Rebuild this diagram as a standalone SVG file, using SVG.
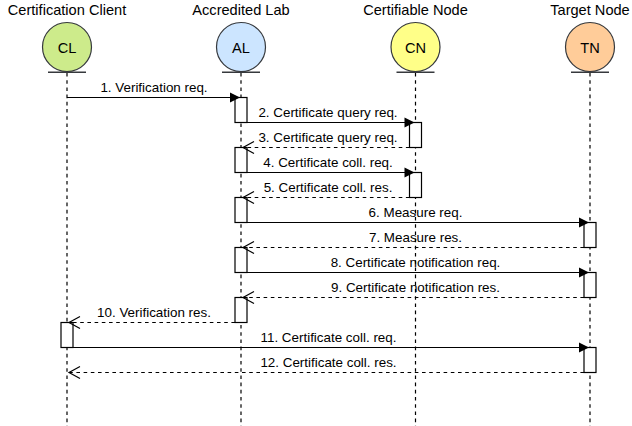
<svg xmlns="http://www.w3.org/2000/svg" width="632" height="426" viewBox="0 0 632 426">
<defs>
<style>
text{font-family:"Liberation Sans",Arial,sans-serif;fill:#000}
.title{font-size:14.6px;text-anchor:middle}
.ctext{font-size:14.6px;text-anchor:middle}
.lbl{font-size:13.4px;text-anchor:middle}
.circ{stroke:#36393d;stroke-width:1.2}
.bar{stroke:#36393d;stroke-width:1.4}
.life{stroke:#000;stroke-width:1.2;stroke-dasharray:3.6 3.6;fill:none}
.act{fill:#fff;stroke:#000;stroke-width:1.2}
.req{stroke:#000;stroke-width:1.2;fill:none;marker-end:url(#filled)}
.res{stroke:#000;stroke-width:1.2;fill:none;stroke-dasharray:3.6 3.6;marker-end:url(#open)}
</style>
<marker id="filled" markerUnits="userSpaceOnUse" markerWidth="12" markerHeight="12" refX="10" refY="5" orient="auto" overflow="visible">
<path d="M0,0 L10,5 L0,10 z" fill="#000"/>
</marker>
<marker id="open" markerUnits="userSpaceOnUse" markerWidth="14" markerHeight="14" refX="11" refY="6" orient="auto" overflow="visible">
<path d="M0,0 L11,6 L0,12" fill="none" stroke="#000" stroke-width="1.2"/>
</marker>
</defs>
<rect width="632" height="426" fill="#fff"/>

<g id="CL">
<text class="title" x="67" y="15">Certification Client</text>
<circle class="circ" cx="67" cy="47" r="24.5" fill="#cdeb8b"/>
<text class="ctext" x="67" y="52.5">CL</text>
<line class="bar" x1="48" y1="72.3" x2="86" y2="72.3"/>
<line class="life" x1="67" y1="73" x2="67" y2="426"/>
</g>
<g id="AL">
<text class="title" x="241" y="15">Accredited Lab</text>
<circle class="circ" cx="241" cy="47" r="24.5" fill="#cce5ff"/>
<text class="ctext" x="241" y="52.5">AL</text>
<line class="bar" x1="222" y1="72.3" x2="260" y2="72.3"/>
<line class="life" x1="241" y1="73" x2="241" y2="426"/>
</g>
<g id="CN">
<text class="title" x="415.5" y="15">Certifiable Node</text>
<circle class="circ" cx="415.5" cy="47" r="24.5" fill="#ffff88"/>
<text class="ctext" x="415.5" y="52.5">CN</text>
<line class="bar" x1="396.5" y1="72.3" x2="434.5" y2="72.3"/>
<line class="life" x1="415.5" y1="73" x2="415.5" y2="426"/>
</g>
<g id="TN">
<text class="title" x="590" y="15">Target Node</text>
<circle class="circ" cx="590" cy="47" r="24.5" fill="#ffcc99"/>
<text class="ctext" x="590" y="52.5">TN</text>
<line class="bar" x1="571" y1="72.3" x2="609" y2="72.3"/>
<line class="life" x1="590" y1="73" x2="590" y2="426"/>
</g>

<g id="activations">
<rect class="act" x="235" y="97.5" width="12" height="25"/>
<rect class="act" x="235" y="147.5" width="12" height="25"/>
<rect class="act" x="235" y="197.5" width="12" height="25"/>
<rect class="act" x="235" y="247.5" width="12" height="25"/>
<rect class="act" x="235" y="297.5" width="12" height="25"/>
<rect class="act" x="409.5" y="122.5" width="12" height="25"/>
<rect class="act" x="409.5" y="172.5" width="12" height="25"/>
<rect class="act" x="584" y="222.5" width="12" height="25"/>
<rect class="act" x="584" y="272.5" width="12" height="25"/>
<rect class="act" x="584" y="347.5" width="12" height="25"/>
<rect class="act" x="61" y="322.5" width="12" height="25"/>
</g>

<g id="connectors">
<line class="req" x1="67" y1="97.5" x2="240" y2="97.5"/>
<text class="lbl" x="154" y="92">1. Verification req.</text>
<line class="req" x1="247" y1="122.5" x2="414.5" y2="122.5"/>
<text class="lbl" x="328" y="117">2. Certificate query req.</text>
<line class="res" x1="409.5" y1="147.5" x2="243" y2="147.5"/>
<text class="lbl" x="328" y="142">3. Certificate query req.</text>
<line class="req" x1="247" y1="172.5" x2="414.5" y2="172.5"/>
<text class="lbl" x="328" y="167">4. Certificate coll. req.</text>
<line class="res" x1="409.5" y1="197.5" x2="243" y2="197.5"/>
<text class="lbl" x="328" y="192">5. Certificate coll. res.</text>
<line class="req" x1="247" y1="222.5" x2="589" y2="222.5"/>
<text class="lbl" x="415.5" y="217">6. Measure req.</text>
<line class="res" x1="584" y1="247.5" x2="243" y2="247.5"/>
<text class="lbl" x="415.5" y="242">7. Measure res.</text>
<line class="req" x1="247" y1="272.5" x2="589" y2="272.5"/>
<text class="lbl" x="415.5" y="267">8. Certificate notification req.</text>
<line class="res" x1="584" y1="297.5" x2="243" y2="297.5"/>
<text class="lbl" x="415.5" y="292">9. Certificate notification res.</text>
<line class="res" x1="235" y1="322.5" x2="69" y2="322.5"/>
<text class="lbl" x="154" y="317">10. Verification res.</text>
<line class="req" x1="73" y1="347.5" x2="589" y2="347.5"/>
<text class="lbl" x="328.5" y="342">11. Certificate coll. req.</text>
<line class="res" x1="584" y1="372.5" x2="69" y2="372.5"/>
<text class="lbl" x="328.5" y="367">12. Certificate coll. res.</text>
</g>
</svg>
